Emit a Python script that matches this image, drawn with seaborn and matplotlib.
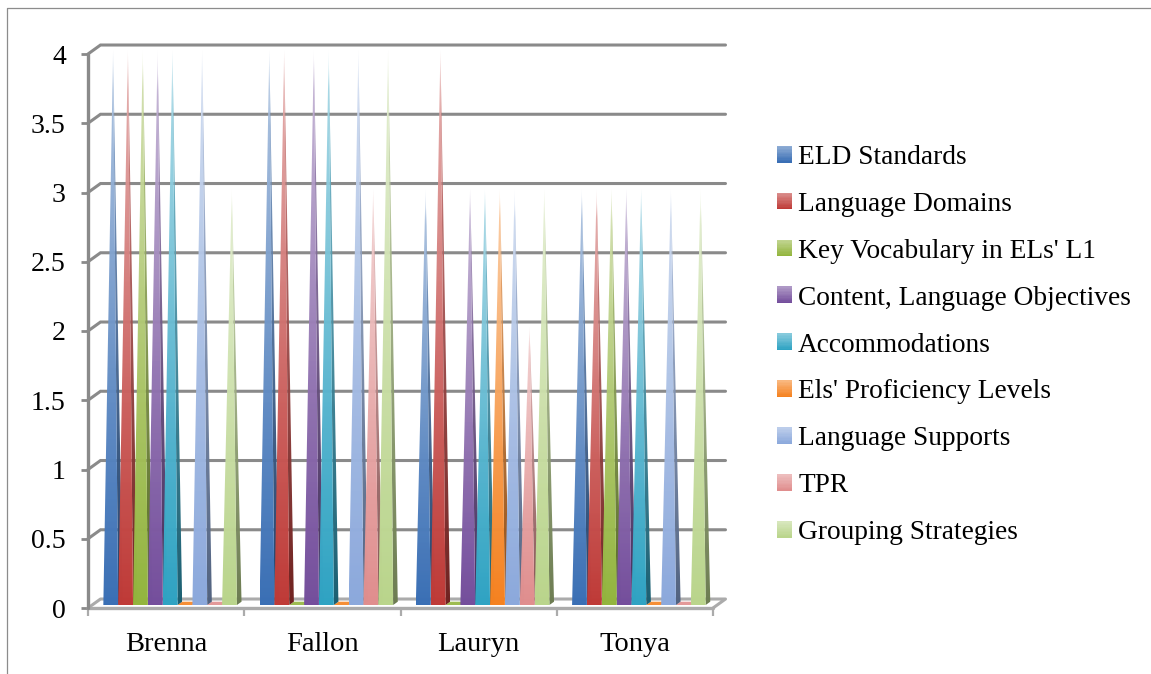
import numpy as np
import pandas as pd
import matplotlib
matplotlib.use("Agg")
import matplotlib.pyplot as plt
import seaborn as sns
from matplotlib.colors import to_rgb
from matplotlib.legend_handler import HandlerBase
from matplotlib.lines import Line2D
from matplotlib.patches import Polygon, Rectangle

teachers = ["Brenna", "Fallon", "Lauryn", "Tonya"]
items = ["ELD Standards", "Language Domains", "Key Vocabulary in ELs' L1",
         "Content, Language Objectives", "Accommodations",
         "Els' Proficiency Levels", "Language Supports", "TPR",
         "Grouping Strategies"]
brenna = [4, 4, 4, 4, 4, 0, 4, 0, 3]
fallon = [4, 4, 0, 4, 4, 0, 4, 3, 4]
lauryn = [3, 4, 0, 3, 3, 3, 3, 2, 3]
tonya = [3, 3, 3, 3, 3, 0, 3, 0, 3]
colors = ["#3A6FB5", "#BF3A37", "#93B53E", "#744E9C", "#2FA3C3",
          "#F58220", "#8CA9DC", "#E08E8E", "#BAD58C"]
yticks = [0, 0.5, 1, 1.5, 2, 2.5, 3, 3.5, 4]
ylabels = ["0", "0.5", "1", "1.5", "2", "2.5", "3", "3.5", "4"]

W, H = 1151, 674
FONT = "Liberation Serif"
SIZE = 19.7
GRID = "#8A8A8A"
FLOOR = "#ABABAB"

# 3D look, in pixels of the original picture
PX_X = 156.25      # one category
PX_Y = 138.75      # one value unit
WALL_DX = 12.5 / PX_X
WALL_DY = 9 / PX_Y
BAR_SHIFT = 4 / PX_X
BAR_LIFT = 3 / PX_Y
SIDE_DX = 4.6 / PX_X
SIDE_DY = 3.3 / PX_Y


def mix(color, other, t):
    return tuple(np.array(to_rgb(color)) * (1 - t) + np.array(to_rgb(other)) * t)


def gradient(ax, fig, verts, low, high, ymin, ymax, z):
    """Vertical gradient clipped to a polygon, low at the bottom."""
    t = np.linspace(0, 1, 128)
    rgba = np.zeros((128, 1, 4))
    for i in range(3):
        rgba[:, 0, i] = np.interp(t, [0, 0.35, 1.0], [low[i], mix(low, high, 0.3)[i], high[i]])
    rgba[:, 0, 3] = np.interp(t, [0, 0.93, 1.0], [1, 0.95, 0.25])
    xs = [v[0] for v in verts]
    im = ax.imshow(rgba, origin="lower", aspect="auto", interpolation="bilinear",
                   extent=(min(xs), max(xs), ymin, ymax), zorder=z)
    clip = Polygon(verts, closed=True, transform=ax.transData)
    im.set_clip_path(clip)
    im.set_clip_box(fig.bbox)


class GradientSwatch(HandlerBase):
    def create_artists(self, legend, orig, xd, yd, width, height, fontsize, trans):
        base = orig.get_facecolor()
        parts = []
        n = 12
        for i in range(n):
            c = mix(base, "white", 0.42 * i / (n - 1))
            parts.append(Rectangle((xd * -1, -yd + height * i / n), width, height / n + 0.2,
                                   facecolor=c, edgecolor="none", transform=trans))
        return parts


sns.set_theme(style="white")
plt.rcParams["font.family"] = [FONT, "DejaVu Sans"]
plt.rcParams["text.color"] = "black"

df = pd.DataFrame({
    "teacher": np.repeat(teachers, len(items)),
    "item": items * len(teachers),
    "score": brenna + fallon + lauryn + tonya,
})

fig = plt.figure(figsize=(W / 100, H / 100), dpi=100, facecolor="white")
ax = fig.add_axes([88 / W, 1 - 608 / H, 625 / W, 554 / H])

sns.barplot(data=df, x="teacher", y="score", hue="item", hue_order=items,
            order=teachers, palette=colors, width=0.855, gap=0, dodge=True,
            legend=False, errorbar=None, ax=ax)
ax.set_xlim(-0.5, 3.5)
ax.set_ylim(0, 4)

# turn the flat bars into the pyramids of the original
for k, cont in enumerate(ax.containers):
    base = colors[k]
    for bar in cont:
        bar.set_visible(False)
        x0 = bar.get_x() + BAR_SHIFT
        x1 = x0 + bar.get_width()
        h = bar.get_height()
        z = 3 + k * 0.1
        if h == 0:
            ax.add_patch(Polygon([(x0, BAR_LIFT), (x1, BAR_LIFT),
                                  (x1 + SIDE_DX, BAR_LIFT + SIDE_DY),
                                  (x0 + SIDE_DX, BAR_LIFT + SIDE_DY)],
                                 closed=True, facecolor=mix(base, "white", 0.1),
                                 edgecolor="none", zorder=2.5, clip_on=False))
            continue
        tip = (0.5 * (x0 + x1) + SIDE_DX / 2, h + 0.03)
        side_low = mix(base, "black", 0.42)
        side_high = mix(base, "white", 0.4)
        gradient(ax, fig, [(x1, BAR_LIFT), (x1 + SIDE_DX, BAR_LIFT + SIDE_DY), tip],
                 side_low, side_high, BAR_LIFT, tip[1], z)
        gradient(ax, fig, [(x0, BAR_LIFT), (x1, BAR_LIFT), tip],
                 to_rgb(base), mix(base, "white", 0.6), BAR_LIFT, tip[1], z + 0.01)
ax.set_xlim(-0.5, 3.5)
ax.set_ylim(0, 4)

# walls and floor
for v in yticks[1:]:
    ax.plot([-0.5, -0.5 + WALL_DX, 3.5 + WALL_DX], [v, v + WALL_DY, v + WALL_DY],
            color=GRID, lw=2.2, clip_on=False, zorder=1, solid_joinstyle="miter")
ax.plot([-0.5, -0.5 + WALL_DX, 3.5 + WALL_DX, 3.5], [0, WALL_DY, WALL_DY, 0],
        color=FLOOR, lw=2.2, clip_on=False, zorder=1)
ax.plot([-0.5, 3.5], [0, 0], color=FLOOR, lw=2.4, clip_on=False, zorder=1)
ax.plot([-0.5, -0.5], [0, 4], color=GRID, lw=2.4, clip_on=False, zorder=1)

for side in ax.spines.values():
    side.set_visible(False)
ax.set_xlabel("")
ax.set_ylabel("")
ax.set_yticks(yticks, labels=ylabels)
ax.set_xticks(range(len(teachers)), labels=teachers)
ax.set_xticks(np.arange(-0.5, 4), minor=True)
ax.tick_params(axis="x", which="major", length=0, pad=17, labelsize=20.5, labelcolor="black")
ax.tick_params(axis="x", which="minor", length=6, width=1.6, color=FLOOR, direction="out", bottom=True)
ax.tick_params(axis="y", length=5, width=2, color=GRID, pad=11, labelsize=20, labelcolor="black", left=True)

handles = [Rectangle((0, 0), 1, 1, facecolor=c) for c in colors]
fig.legend(handles, items, loc="upper left", bbox_to_anchor=(777 / W, 1 - 145 / H),
           frameon=False, fontsize=SIZE, handlelength=0.55, handleheight=0.55,
           handletextpad=0.22, labelspacing=0.8, borderpad=0, borderaxespad=0,
           handler_map={Rectangle: GradientSwatch()})

# thin frame at the top and left of the picture
fig.add_artist(Line2D([7 / W, 7 / W, 1], [0, 1 - 8 / H, 1 - 8 / H], color="#8C8C8C", lw=0.9))

fig.savefig("out.png", dpi=100)
